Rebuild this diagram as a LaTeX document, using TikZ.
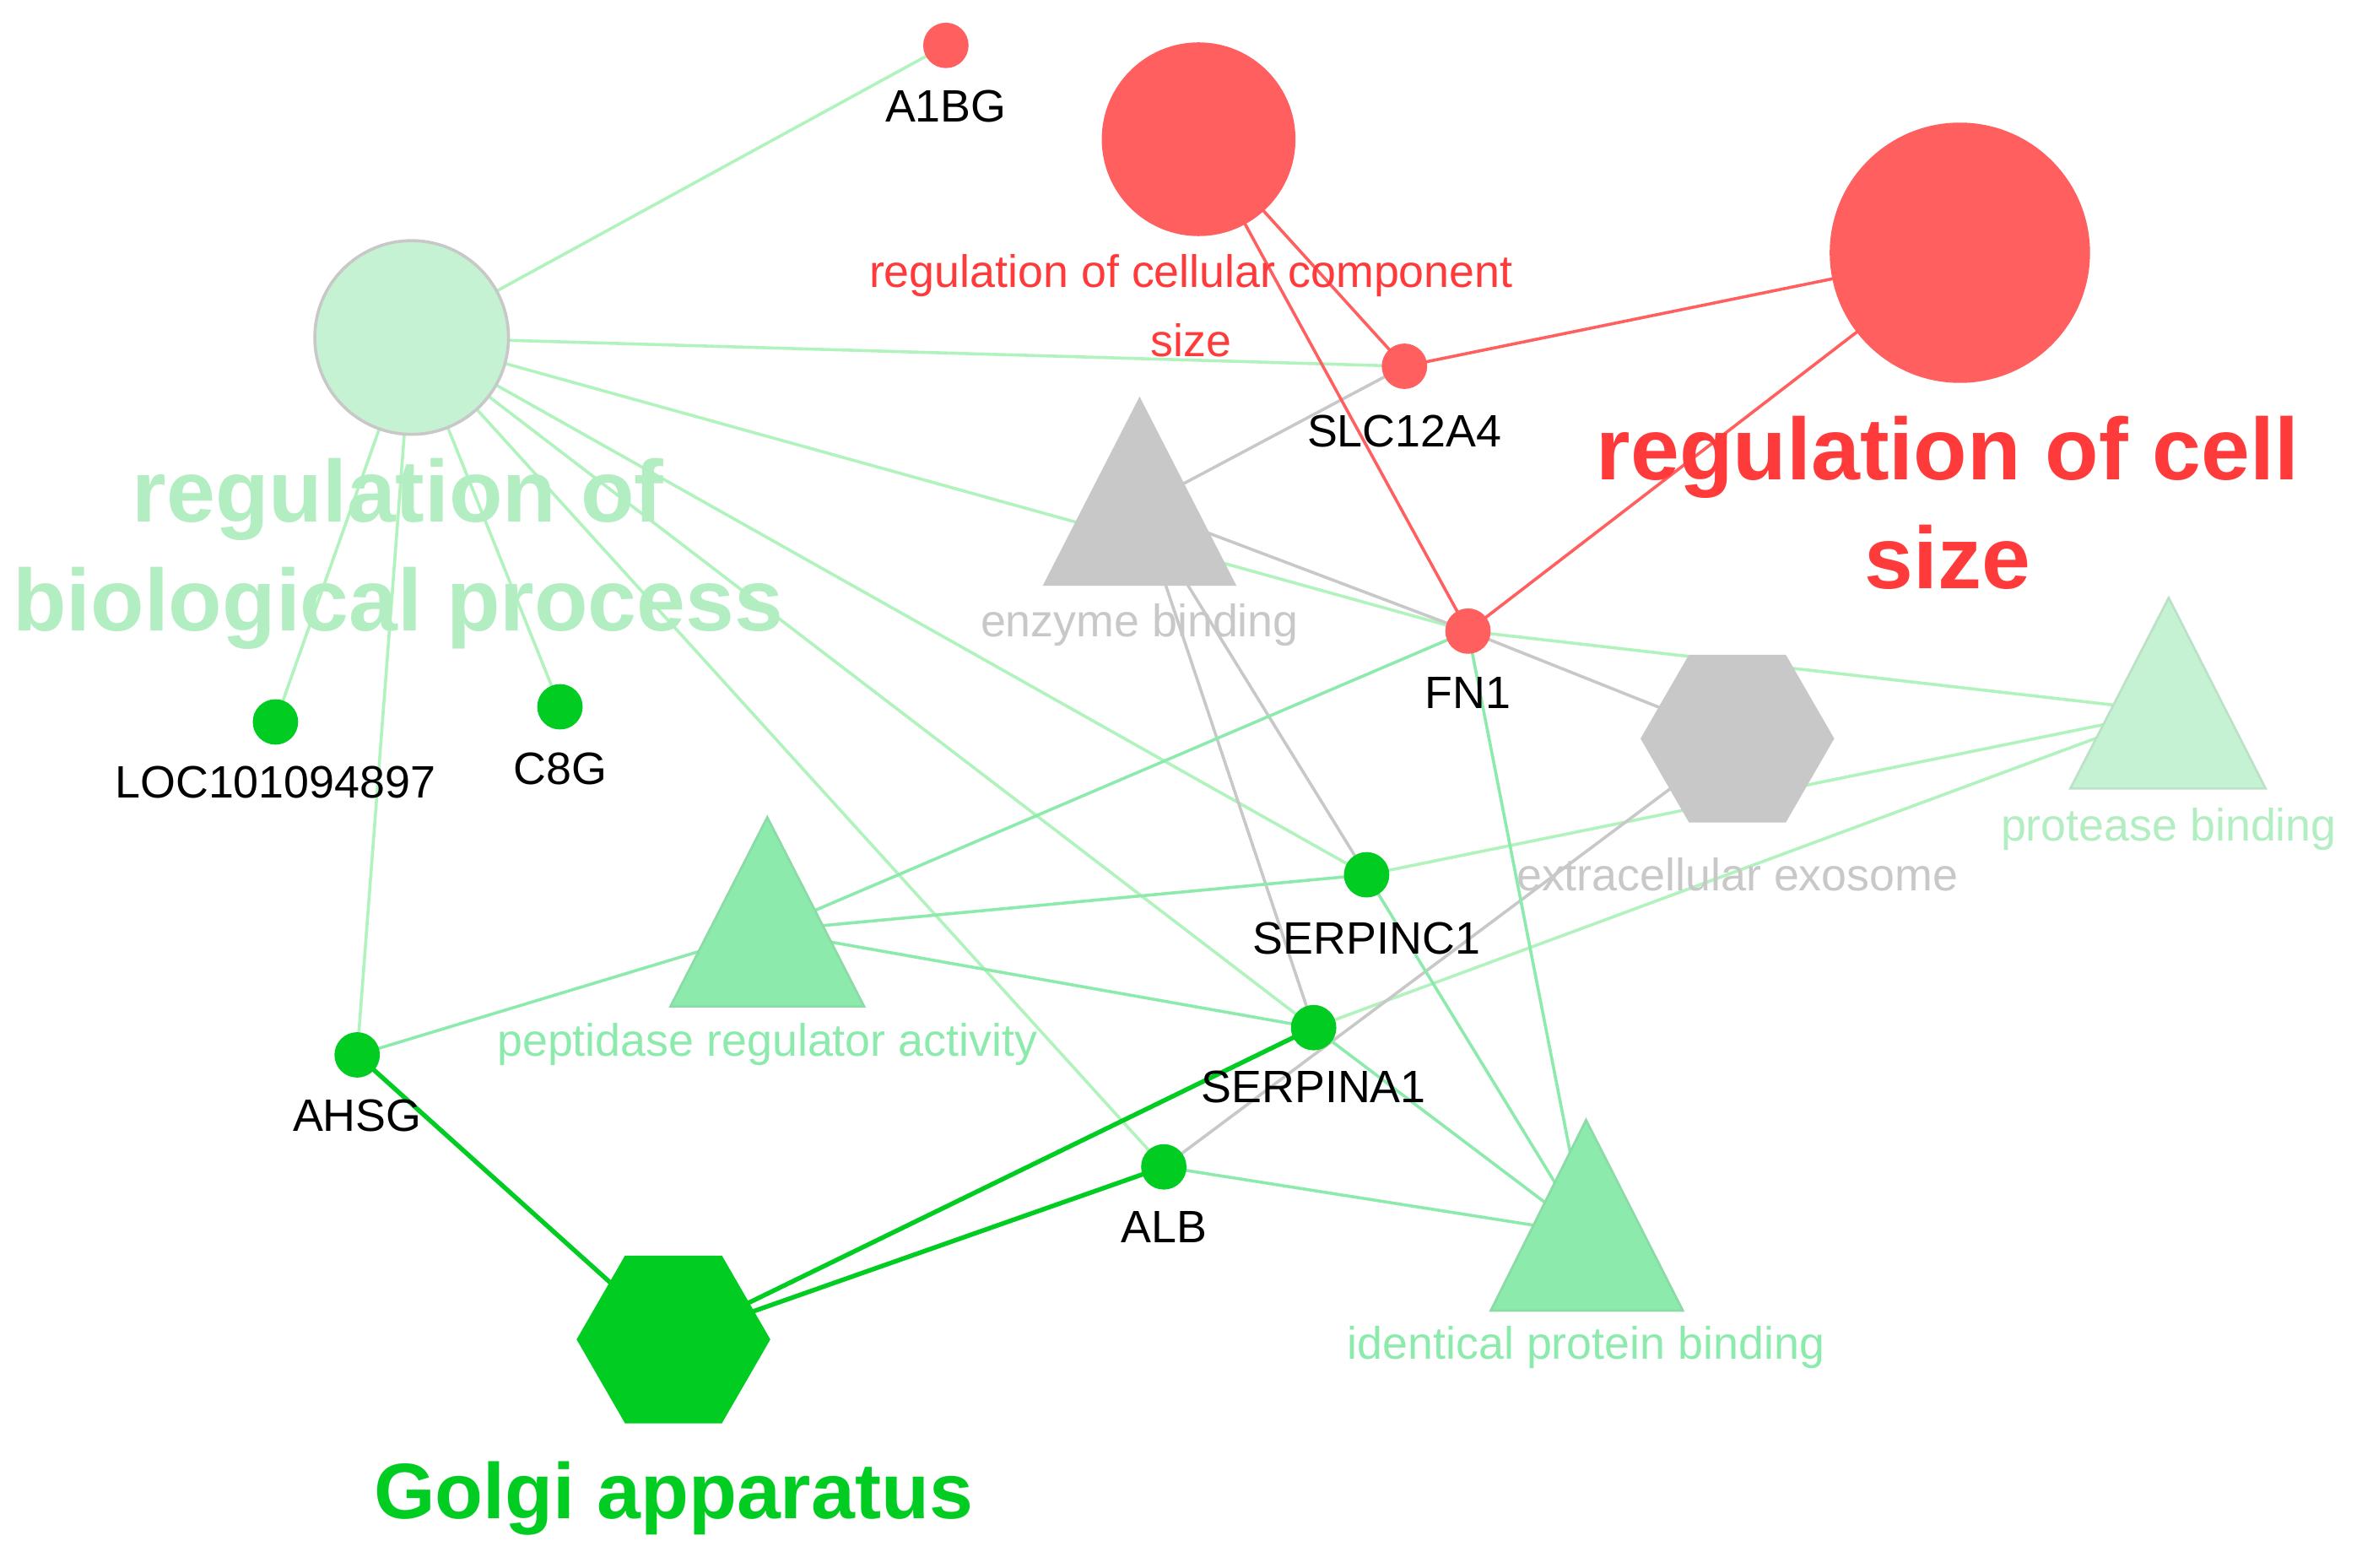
\documentclass[tikz,border=0pt]{standalone}
\usepackage{fontspec}
\setmainfont{Liberation Sans}
\usetikzlibrary{shapes.geometric}
\definecolor{rd}{HTML}{FF5F5F}
\definecolor{rdt}{HTML}{FF3A3A}
\definecolor{lg}{HTML}{C5F2D2}
\definecolor{lgt}{HTML}{B2EEC2}
\definecolor{mg}{HTML}{8CEBAC}
\definecolor{bg}{HTML}{00CC22}
\definecolor{gy}{HTML}{C8C8C8}
\begin{document}
\begin{tikzpicture}[x=1pt,y=-1pt,
 lab/.style={font=\fontsize{30}{34}\selectfont},
 big/.style={font=\fontsize{58}{72}\selectfont\bfseries,align=center},
 gene/.style={circle,fill=bg,minimum size=30pt,inner sep=0},
 rgene/.style={circle,fill=rd,minimum size=30pt,inner sep=0},
 eR/.style={draw=rd,line width=2pt},
 eL/.style={draw=lg!90!green,line width=2pt},
 eM/.style={draw=mg,line width=2pt},
 eG/.style={draw=gy,line width=2pt},
 eB/.style={draw=bg,line width=3pt}]
\useasboundingbox (0,0) rectangle (1568,1036);
% coordinates
\coordinate (a1bg) at (625,30);
\coordinate (rcc) at (792,92);
\coordinate (rcs) at (1295,167);
\coordinate (slc) at (928,242);
\coordinate (fn1) at (970,417);
\coordinate (rbp) at (272,223);
\coordinate (enz) at (753,335);
\coordinate (exo) at (1148,488);
\coordinate (pro) at (1433,470);
\coordinate (pep) at (507,615);
\coordinate (idp) at (1048,815);
\coordinate (gol) at (445,885);
\coordinate (loc) at (182,477);
\coordinate (c8g) at (370,467);
\coordinate (spc) at (903,578);
\coordinate (spa) at (868,679);
\coordinate (ahsg) at (236,697);
\coordinate (alb) at (769,771);
% edges
\foreach \t in {a1bg,slc,fn1,loc,c8g,ahsg,spc,spa,alb} \draw[eL] (rbp) -- (\t);
\foreach \t in {fn1,spc,spa} \draw[eL] (pro) -- (\t);
\foreach \t in {slc,fn1,spc,spa} \draw[eG] (enz) -- (\t);
\foreach \t in {fn1,alb} \draw[eG] (exo) -- (\t);
\foreach \t in {fn1,spc,spa,ahsg} \draw[eM] (pep) -- (\t);
\foreach \t in {fn1,spc,spa,alb} \draw[eM] (idp) -- (\t);
\foreach \t in {ahsg,spa,alb} \draw[eB] (gol) -- (\t);
\foreach \t in {slc,fn1} {\draw[eR] (rcc) -- (\t); \draw[eR] (rcs) -- (\t);}
% shapes
\node[circle,fill=lg,draw=gy,line width=2pt,minimum size=128pt] (nrbp) at (rbp) {};
\node[circle,fill=rd,minimum size=128pt] (nrcc) at (rcc) {};
\node[circle,fill=rd,minimum size=172pt] (nrcs) at (rcs) {};
\fill[gy] (753,262) -- (817,387) -- (689,387) -- cycle;
\fill[lg,draw=lg!85!gray,line width=1.5pt] (1433,395) -- (1497,521) -- (1368,521) -- cycle;
\fill[mg,draw=mg!85!gray,line width=1.5pt] (507,540) -- (571,665) -- (443,665) -- cycle;
\fill[mg,draw=mg!85!gray,line width=1.5pt] (1048,740) -- (1112,866) -- (985,866) -- cycle;
\node[regular polygon,regular polygon sides=6,fill=gy,minimum size=128pt,inner sep=0] (nexo) at (exo) {};
\node[regular polygon,regular polygon sides=6,fill=bg,minimum size=128pt,inner sep=0] (ngol) at (gol) {};
\node[rgene] (na1bg) at (a1bg) {};
\node[rgene] (nslc) at (slc) {};
\node[rgene] (nfn1) at (fn1) {};
\foreach \n in {loc,c8g,spc,spa,ahsg,alb} \node[gene] (n\n) at (\n) {};
% labels
\node[lab] at (625,70) {A1BG};
\node[lab] at (928,285) {SLC12A4};
\node[lab] at (970,458) {FN1};
\node[lab] at (182,517) {LOC101094897};
\node[lab] at (370,508) {C8G};
\node[lab] at (903,620) {SERPINC1};
\node[lab] at (868,718) {SERPINA1};
\node[lab] at (236,737) {AHSG};
\node[lab] at (769,811) {ALB};
\node[lab,text=rdt] at (787,182) {regulation of cellular component};
\node[lab,text=rdt] at (787,225) {size};
\node[lab,text=gy] at (753,413) {enzyme binding};
\node[lab,text=gy] at (1148,578) {extracellular exosome};
\node[lab,text=lgt] at (1433,548) {protease binding};
\node[lab,text=mg] at (507,690) {peptidase regulator activity};
\node[lab,text=mg] at (1048,890) {identical protein binding};
\node[big,text=rdt] at (1287,332) {regulation of cell\\size};
\node[big,text=lgt] at (263,366) {regulation of\\biological process};
\node[font=\fontsize{52}{60}\selectfont\bfseries,text=bg] at (445,990) {Golgi apparatus};
\end{tikzpicture}
\end{document}
